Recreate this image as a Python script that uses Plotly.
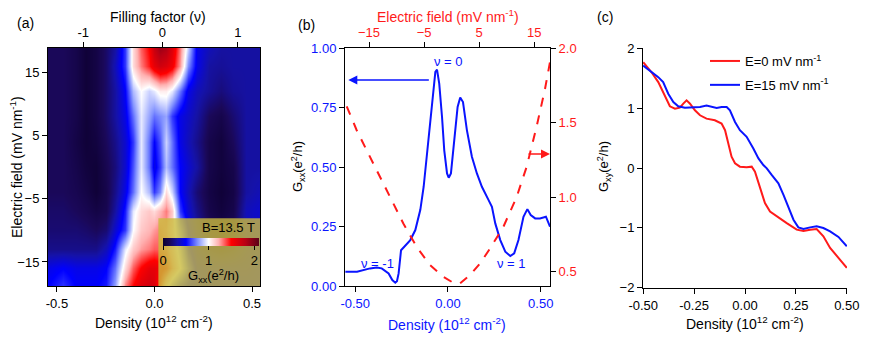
import plotly.graph_objects as go

# ---- panel (a): Gxx map, density vs electric field ----
map_density = [-0.55, -0.47, -0.40, -0.35, -0.30, -0.25, -0.20, -0.15, -0.11, -0.07, -0.03, 0.0,
               0.03, 0.06, 0.09, 0.13, 0.17, 0.22, 0.28, 0.34, 0.40, 0.47, 0.55]
map_efield = [-19, -16, -13, -10, -7, -4, 0, 4, 8, 12, 16, 19]
map_gxx = [
    [0.5, 0.6, 0.5, 0.5, 0.5, 0.55, 0.8, 1.3, 1.5, 1.65, 1.7, 1.65, 1.4, 1.05, 0.8, 0.6, 0.5, 0.45, 0.45, 0.45, 0.45, 0.45, 0.45],
    [0.45, 0.5, 0.45, 0.45, 0.45, 0.5, 0.7, 1.1, 1.35, 1.5, 1.6, 1.6, 1.55, 1.45, 1.25, 1.0, 0.7, 0.45, 0.4, 0.4, 0.4, 0.4, 0.45],
    [0.25, 0.25, 0.25, 0.25, 0.25, 0.35, 0.55, 0.95, 1.15, 1.25, 1.3, 1.35, 1.35, 1.3, 1.15, 0.9, 0.55, 0.35, 0.25, 0.2, 0.25, 0.35, 0.4],
    [0.2, 0.2, 0.2, 0.18, 0.15, 0.2, 0.4, 0.6, 1.0, 1.15, 1.2, 1.25, 1.3, 1.25, 1.1, 0.8, 0.5, 0.3, 0.15, 0.1, 0.15, 0.35, 0.4],
    [0.18, 0.18, 0.15, 0.12, 0.08, 0.12, 0.3, 0.55, 0.95, 1.1, 1.15, 1.1, 1.2, 1.3, 1.15, 0.6, 0.4, 0.25, 0.1, 0.05, 0.1, 0.35, 0.4],
    [0.15, 0.15, 0.12, 0.08, 0.03, 0.1, 0.25, 0.45, 0.7, 1.0, 0.85, 0.6, 0.75, 1.1, 0.9, 0.5, 0.35, 0.2, 0.08, 0.03, 0.08, 0.3, 0.35],
    [0.15, 0.15, 0.1, 0.05, 0.03, 0.12, 0.22, 0.4, 0.65, 0.95, 0.7, 0.45, 0.6, 0.85, 0.7, 0.5, 0.4, 0.3, 0.1, 0.05, 0.1, 0.3, 0.3],
    [0.15, 0.15, 0.08, 0.03, 0.06, 0.15, 0.25, 0.4, 0.6, 0.95, 0.7, 0.5, 0.65, 0.9, 0.7, 0.45, 0.35, 0.25, 0.1, 0.05, 0.15, 0.3, 0.3],
    [0.15, 0.15, 0.1, 0.03, 0.08, 0.18, 0.3, 0.45, 0.7, 0.95, 0.8, 0.7, 0.75, 0.8, 0.6, 0.45, 0.38, 0.3, 0.15, 0.1, 0.2, 0.3, 0.3],
    [0.15, 0.15, 0.1, 0.03, 0.08, 0.18, 0.3, 0.5, 0.85, 1.0, 0.9, 0.95, 1.05, 1.05, 0.95, 0.7, 0.45, 0.35, 0.28, 0.22, 0.28, 0.3, 0.3],
    [0.15, 0.15, 0.1, 0.03, 0.08, 0.18, 0.35, 0.6, 1.1, 1.3, 1.45, 1.6, 1.7, 1.65, 1.55, 1.25, 0.75, 0.45, 0.3, 0.28, 0.3, 0.3, 0.3],
    [0.15, 0.15, 0.1, 0.03, 0.08, 0.18, 0.3, 0.6, 1.1, 1.35, 1.5, 1.75, 1.9, 1.85, 1.65, 1.3, 0.9, 0.45, 0.35, 0.3, 0.3, 0.3, 0.3],
]
nu_ticks_density = [-0.365, 0.04, 0.427]   # where nu = -1, 0, 1 sit on the density axis
nu_labels = ["-1", "0", "1"]

# ---- panel (b): Gxx line cut vs density, and vs electric field ----
b_density = [-0.553, -0.49, -0.42, -0.384, -0.357, -0.32, -0.30, -0.284, -0.275, -0.266, -0.253, -0.23,
             -0.203, -0.176, -0.149, -0.131, -0.113, -0.095, -0.081, -0.068, -0.059, -0.047, -0.032,
             -0.02, -0.005, 0.004, 0.016, 0.034, 0.052, 0.066, 0.081, 0.102, 0.129, 0.156, 0.183,
             0.219, 0.237, 0.255, 0.282, 0.309, 0.336, 0.357, 0.38, 0.407, 0.428, 0.446, 0.47, 0.496,
             0.528, 0.55]
b_gxx = [0.06, 0.06, 0.074, 0.078, 0.074, 0.053, 0.025, 0.014, 0.02, 0.053, 0.15, 0.17,
         0.193, 0.235, 0.32, 0.417, 0.557, 0.697, 0.808, 0.9, 0.909, 0.85, 0.71,
         0.57, 0.473, 0.455, 0.473, 0.613, 0.752, 0.792, 0.773, 0.655, 0.543, 0.473, 0.417,
         0.361, 0.333, 0.263, 0.193, 0.144, 0.126, 0.137, 0.193, 0.291, 0.323, 0.298, 0.284, 0.284,
         0.291, 0.249]
b_efield = [-19.05, -17.24, -14.21, -11.19, -8.77, -6.35, -3.93, -1.51, 0.31, 1.52, 3.33, 5.15,
            6.96, 9.38, 11.8, 13.6, 15.4, 16.9, 17.85]
b_gxx_e = [1.609, 1.449, 1.225, 1.002, 0.824, 0.667, 0.545, 0.467, 0.426, 0.422, 0.478, 0.556,
           0.656, 0.801, 1.002, 1.203, 1.471, 1.717, 1.906]

# ---- panel (c): Gxy vs density ----
c_density_e0 = [-0.5, -0.459, -0.426, -0.393, -0.369, -0.344, -0.32, -0.303, -0.287, -0.27, -0.246,
                -0.221, -0.189, -0.148, -0.115, -0.098, -0.082, -0.066, -0.049, -0.025, 0.008, 0.033,
                0.049, 0.074, 0.098, 0.123, 0.156, 0.205, 0.254, 0.287, 0.32, 0.352, 0.385, 0.418,
                0.459, 0.5]
c_gxy_e0 = [1.767, 1.6, 1.435, 1.186, 1.031, 0.992, 1.008, 1.075, 1.13, 1.075, 0.964,
            0.881, 0.825, 0.798, 0.742, 0.632, 0.41, 0.188, 0.078, 0.022, 0.011, 0.022,
            -0.061, -0.31, -0.587, -0.726, -0.809, -0.92, -1.03, -1.053, -1.03, -1.019, -1.141, -1.335,
            -1.501, -1.668]
c_density_e15 = [-0.5, -0.459, -0.426, -0.402, -0.377, -0.352, -0.328, -0.295, -0.262, -0.221, -0.189,
                 -0.164, -0.139, -0.115, -0.09, -0.074, -0.049, -0.025, 0.008, 0.041, 0.066, 0.09,
                 0.107, 0.131, 0.164, 0.189, 0.213, 0.238, 0.262, 0.287, 0.32, 0.352, 0.385, 0.418,
                 0.459, 0.5]
c_gxy_e15 = [1.712, 1.6, 1.518, 1.435, 1.241, 1.103, 1.031, 1.008, 1.008, 1.019, 1.042,
             1.019, 1.003, 1.019, 1.019, 0.964, 0.77, 0.632, 0.521, 0.327, 0.161, 0.05,
             -0.006, -0.116, -0.255, -0.449, -0.67, -0.864, -0.992, -1.019, -0.992, -0.975, -1.003, -1.058,
             -1.152, -1.307]

# the page body adds an 8px margin, so the figure is 16px smaller and positions shift by 8px
OFF = 8
W, H = 871 - 2 * OFF, 341 - 2 * OFF
FONT = "Arial, Liberation Sans, sans-serif"
BLUE = "#0a14ff"
RED = "#ff1a1a"

def px_x(p):
    return (p - OFF) / W

def px_y(p):
    return 1 - (p - OFF) / H

colorscale = [
    [0.0, "#0d0030"], [0.07, "#1a0858"], [0.15, "#1512a8"], [0.24, "#0000ff"],
    [0.36, "#8090ff"], [0.476, "#ffffff"], [0.58, "#ffb0b0"], [0.71, "#ff0000"],
    [0.86, "#b80014"], [1.0, "#5a0018"],
]

fig = go.Figure()

fig.add_trace(go.Heatmap(
    x=map_density, y=map_efield, z=map_gxx, zsmooth="best",
    colorscale=colorscale, zmin=0, zmax=2.1,
    xaxis="x", yaxis="y",
    colorbar=dict(
        orientation="h", x=px_x(211), xanchor="center", y=px_y(238), yanchor="top",
        len=96, lenmode="pixels", thickness=8, xpad=0, ypad=0, outlinewidth=0,
        tickvals=[0, 1, 2], ticks="outside", ticklen=4, tickcolor="black",
        tickfont=dict(size=13, color="black", family=FONT),
    ),
))
# empty trace so the filling-factor axis on top gets drawn
fig.add_trace(go.Scatter(x=[], y=[], xaxis="x5", yaxis="y", showlegend=False, hoverinfo="skip"))

fig.add_trace(go.Scatter(x=b_density, y=b_gxx, mode="lines", xaxis="x2", yaxis="y2",
                         line=dict(color=BLUE, width=2), showlegend=False))
fig.add_trace(go.Scatter(x=b_efield, y=b_gxx_e, mode="lines", xaxis="x4", yaxis="y4",
                         line=dict(color=RED, width=2, dash="dash"), showlegend=False))

fig.add_trace(go.Scatter(x=c_density_e0, y=c_gxy_e0, mode="lines", xaxis="x3", yaxis="y3",
                         line=dict(color=RED, width=2), name="E=0 mV nm<sup>-1</sup>",
                         legendgroup="e0"))
fig.add_trace(go.Scatter(x=c_density_e15, y=c_gxy_e15, mode="lines", xaxis="x3", yaxis="y3",
                         line=dict(color=BLUE, width=2), name="E=15 mV nm<sup>-1</sup>",
                         legendgroup="e15"))

ax_common = dict(showline=True, linecolor="black", linewidth=1, ticks="outside", ticklen=5,
                 tickcolor="black", showgrid=False, zeroline=False,
                 tickfont=dict(size=13, family=FONT, color="black"))

dom_a = [px_x(48), px_x(260)]
dom_b = [px_x(345), px_x(550)]
dom_c = [px_x(643), px_x(847)]
ydom = [px_y(286), px_y(48)]
ydom_c = [px_y(288), px_y(48)]

fig.update_layout(
    width=W, height=H, autosize=False,
    margin=dict(l=0, r=0, t=0, b=0, autoexpand=False),
    paper_bgcolor="white", plot_bgcolor="white",
    font=dict(family=FONT, size=13, color="black"),
    xaxis=dict(ax_common, domain=dom_a, range=[-0.546, 0.541], anchor="y", mirror=True,
               tickvals=[-0.5, 0, 0.5], ticktext=["-0.5", "0.0", "0.5"]),
    yaxis=dict(ax_common, domain=ydom, range=[-18.8, 18.8], anchor="x", mirror=True,
               tickvals=[-15, -5, 5, 15]),
    xaxis5=dict(ax_common, overlaying="x", side="top", anchor="y", range=[-0.546, 0.541],
                tickvals=nu_ticks_density, ticktext=nu_labels),
    xaxis2=dict(ax_common, domain=dom_b, range=[-0.555, 0.55], anchor="y2",
                tickvals=[-0.5, 0, 0.5], ticktext=["-0.50", "0.00", "0.50"],
                tickfont=dict(size=13, family=FONT, color=BLUE)),
    yaxis2=dict(ax_common, domain=ydom, range=[0, 1], anchor="x2",
                tickvals=[0, 0.25, 0.5, 0.75, 1.0], ticktext=["0.00", "0.25", "0.50", "0.75", "1.00"],
                tickfont=dict(size=13, family=FONT, color=BLUE)),
    xaxis4=dict(ax_common, overlaying="x2", side="top", anchor="y2", range=[-19.36, 17.85],
                tickvals=[-15, -5, 5, 15], tickfont=dict(size=13, family=FONT, color=RED)),
    yaxis4=dict(ax_common, overlaying="y2", side="right", anchor="x2", range=[0.405, 2.0],
                tickvals=[0.5, 1.0, 1.5, 2.0], ticktext=["0.5", "1.0", "1.5", "2.0"],
                tickfont=dict(size=13, family=FONT, color=RED)),
    xaxis3=dict(ax_common, domain=dom_c, range=[-0.501, 0.501], anchor="y3",
                tickvals=[-0.5, -0.25, 0, 0.25, 0.5],
                ticktext=["-0.50", "-0.25", "0.00", "0.25", "0.50"]),
    yaxis3=dict(ax_common, domain=ydom_c, range=[-2.005, 2.005], anchor="x3",
                tickvals=[-2, -1, 0, 1, 2]),
    legend=dict(x=px_x(705), y=px_y(46), xanchor="left", yanchor="top",
                bgcolor="rgba(0,0,0,0)", font=dict(size=13, family=FONT),
                itemwidth=30, tracegroupgap=4),
)

# translucent inset box behind the colour bar
fig.add_shape(type="rect", xref="x", yref="y", x0=0.02, x1=0.541, y0=-18.8, y1=-8.1,
              fillcolor="rgba(202,188,60,0.8)", line=dict(width=0), layer="above")

ann = []

def txt(x, y, s, color="black", size=13, angle=0, xanchor="center"):
    ann.append(dict(x=px_x(x), y=px_y(y), xref="paper", yref="paper", text=s, showarrow=False,
                    font=dict(size=size, color=color, family=FONT), textangle=angle,
                    xanchor=xanchor, yanchor="middle"))

dens_title = "Density (10<sup>12</sup> cm<sup>-2</sup>)"
txt(25, 23, "(a)", size=14)
txt(306, 25, "(b)", size=14)
txt(605, 17, "(c)", size=14)
txt(158, 17, "Filling factor (ν)", size=14)
txt(16, 167, "Electric field (mV nm<sup>-1</sup>)", size=14, angle=-90)
txt(154, 322, dens_title, size=14)
txt(257, 227, "B=13.5 T", xanchor="right")
txt(213, 276, "G<sub>xx</sub>(e<sup>2</sup>/h)")
txt(448, 16, "Electric field (mV nm<sup>-1</sup>)", color=RED, size=14)
txt(298, 167, "G<sub>xx</sub>(e<sup>2</sup>/h)", size=13, angle=-90)
txt(447, 324, dens_title, color=BLUE, size=14)
txt(448, 62, "ν = 0", color=BLUE)
txt(377, 263, "ν = -1", color=BLUE)
txt(512, 263, "ν = 1", color=BLUE)
txt(604, 167, "G<sub>xy</sub>(e<sup>2</sup>/h)", size=13, angle=-90)
txt(745, 323, dens_title, size=14)

# arrows pointing to the axes each curve belongs to
ann.append(dict(x=-0.537, y=0.866, xref="x2", yref="y2", ax=82, ay=0, text="", showarrow=True,
                arrowhead=2, arrowsize=1.2, arrowwidth=1.5, arrowcolor=BLUE))
ann.append(dict(x=0.55, y=0.555, xref="x2", yref="y2", ax=-23, ay=0, text="", showarrow=True,
                arrowhead=2, arrowsize=1.2, arrowwidth=1.5, arrowcolor=RED))

fig.update_layout(annotations=ann)

fig.write_html("out.html")
